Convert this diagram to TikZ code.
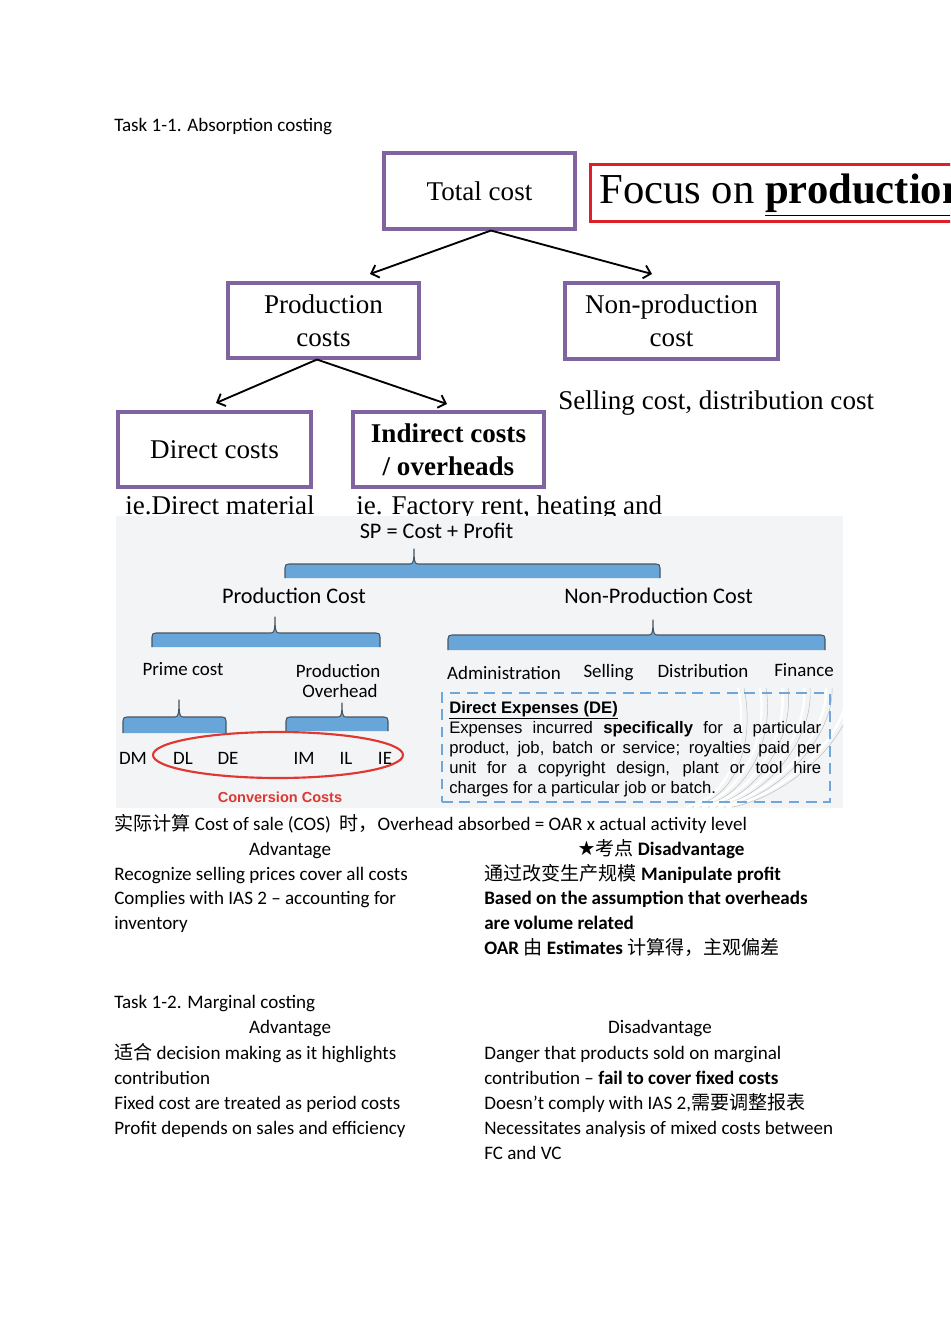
\documentclass[tikz,border=0pt]{standalone}
\usepackage{fontspec}
\setmainfont{Carlito}
\newfontfamily\tnr{Liberation Serif}
\newfontfamily\arial{Liberation Sans}
\newfontfamily\cjk{Noto Sans CJK SC}
\newfontfamily\dvs{DejaVu Sans}
\usetikzlibrary{arrows.meta}
\definecolor{ppl}{RGB}{128,100,162}
\definecolor{redb}{RGB}{222,30,40}
\definecolor{bfill}{RGB}{104,166,218}
\definecolor{bline}{RGB}{75,85,95}
\definecolor{imgbg}{RGB}{243,244,246}
\definecolor{ellred}{RGB}{222,56,48}
\definecolor{dashblue}{RGB}{110,168,218}
\newcommand\bluebrace[6]{%
  \fill[bfill] (#1,#4) -- (#1,{#3+4}) .. controls (#1,{#3+1}) and ({#1+1},#3) .. ({#1+4},#3)
    -- ({#5-4},#3) .. controls ({#5-1},#3) and (#5,{#3-2}) .. (#5,#6)
    .. controls (#5,{#3-2}) and ({#5+1},#3) .. ({#5+4},#3)
    -- ({#2-4},#3) .. controls ({#2-1},#3) and (#2,{#3+1}) .. (#2,{#3+4}) -- (#2,#4) -- cycle;
  \draw[bline, line width=0.8pt, line join=round] (#1,#4) -- (#1,{#3+4}) .. controls (#1,{#3+1}) and ({#1+1},#3) .. ({#1+4},#3)
    -- ({#5-4},#3) .. controls ({#5-1},#3) and (#5,{#3-2}) .. (#5,#6)
    .. controls (#5,{#3-2}) and ({#5+1},#3) .. ({#5+4},#3)
    -- ({#2-4},#3) .. controls ({#2-1},#3) and (#2,{#3+1}) .. (#2,{#3+4}) -- (#2,#4);
}
\begin{document}
\begin{tikzpicture}[x=0.75pt,y=-0.75pt,
  pbox/.style={draw=ppl, line width=2.3pt, font=\tnr\fontsize{20.3}{24.75}\selectfont, align=center, inner sep=0pt},
  arr/.style={line width=1.4pt, -{Straight Barb[length=5pt,width=10pt,line width=1.4pt]}},
  body/.style={font=\fontsize{14.3}{18}\selectfont, anchor=base west, inner sep=0pt},
  bodyc/.style={body, anchor=base},
  tnrtext/.style={font=\tnr\fontsize{20.3}{24}\selectfont, anchor=base west, inner sep=0pt},
  lbl/.style={font=\fontsize{14.2}{17}\selectfont, anchor=base, inner sep=0pt},
  hdr/.style={font=\fontsize{16.7}{19}\selectfont, anchor=base, inner sep=0pt},
  detext/.style={font=\arial\fontsize{12.5}{15}\selectfont, anchor=base west, inner sep=0pt}]
\useasboundingbox (0,0) rectangle (950,1344);
\fill[white] (0,0) rectangle (950,1344);
\clip (0,0) rectangle (950,1344);

% ---------- Task 1-1 title
\node[body] (t11) at (114,132) {Task 1-1. Absorption costing};

% ---------- top tree
\node[pbox, minimum width=143.25pt, minimum height=57pt] (tc) at (479.5,191) {Total cost};
\node[draw=redb, line width=2.2pt, minimum width=300pt, minimum height=42.75pt, anchor=north west, inner sep=0pt] (focus) at (589,163) {};
\node[anchor=base west, inner sep=0pt, font=\tnr\fontsize{32}{36}\selectfont] (focustxt) at (599,204) {Focus on \textbf{\underline{production}}};

\node[pbox, minimum width=143.25pt, minimum height=56.25pt] (pc) at (323.5,320.5) {Production\\costs};
\node[pbox, minimum width=159.75pt, minimum height=57pt] (np) at (671.5,321) {Non-production\\cost};
\node[tnrtext] (sell) at (558,409) {Selling cost, distribution cost};

\node[pbox, minimum width=144.75pt, minimum height=56.25pt] (dc) at (214.5,449.5) {Direct costs};
\node[pbox, minimum width=143.25pt, minimum height=56.25pt, font=\tnr\bfseries\fontsize{20.3}{24.75}\selectfont] (ic) at (448.5,449.5) {Indirect costs\\/ overheads};

\coordinate (e1) at (370,274);
\coordinate (e2) at (652,274);
\coordinate (e3) at (216,403);
\coordinate (e4) at (447,404);
\draw[arr] ([xshift=8.6pt]tc.south) -- (e1);
\draw[arr] ([xshift=8.6pt]tc.south) -- (e2);
\draw[arr] ([xshift=-4.9pt]pc.south) -- (e3);
\draw[arr] ([xshift=-4.9pt]pc.south) -- (e4);

\node[tnrtext] (iedm) at (125,514) {ie.Direct material};
\node[tnrtext] (iefr) at (356,514) {ie. Factory rent, heating and};

% ---------- middle picture
\fill[imgbg] (116,516) rectangle (843,808);
\begin{scope}
\clip (116,516) rectangle (843,808);
\foreach \i in {0,...,5}{
  \draw[white, line width=1.8pt] ({686+\i*8},807) .. controls ({735+\i*10},796) and ({748+\i*20},735) .. ({738+\i*22},688);
  \draw[gray!55, line width=0.35pt] ({692+\i*8},807) .. controls ({741+\i*10},796) and ({754+\i*20},735) .. ({744+\i*22},688);
}
\end{scope}

\node[hdr] (sp) at (436.5,538) {SP = Cost + Profit};
\bluebrace{285}{660}{564}{578}{414}{549}
\node[hdr] (prodc) at (294,603) {Production Cost};
\node[hdr] (nonpc) at (658.5,603) {Non-Production Cost};
\bluebrace{152}{380}{633}{647}{275}{617}
\bluebrace{448}{825}{635}{650}{653}{620}

\node[lbl] (prime) at (183,675) {Prime cost};
\node[lbl] (po1) at (338,677) {Production};
\node[lbl] (po2) at (340,697) {Overhead};
\node[lbl] (adm) at (504,679) {Administration};
\node[lbl] (sel) at (608.5,677) {Selling};
\node[lbl] (dis) at (703,677) {Distribution};
\node[lbl] (fin) at (804,676.5) {Finance};

\bluebrace{123}{226}{717}{733}{179}{700}
\bluebrace{286}{388}{717}{731}{342}{703}

\node[lbl] (dm) at (133,764) {DM};
\node[lbl] (dl) at (183,764) {DL};
\node[lbl] (de) at (228,764) {DE};
\node[lbl] (im) at (304,764) {IM};
\node[lbl] (il) at (346,764) {IL};
\node[lbl] (ie) at (385,764) {IE};
\draw[ellred, line width=1.6pt] (278,755) ellipse [x radius=125, y radius=23];
\node[anchor=base, inner sep=0pt, text=ellred, font=\arial\bfseries\fontsize{10.9}{12}\selectfont] (conv) at (280,802.5) {Conversion Costs};

\node[draw=dashblue, line width=1.5pt, dash pattern=on 8pt off 5pt, minimum width=291pt, minimum height=81.75pt, inner sep=0pt] (debox) at (636,747.5) {};
\node[detext] (de0) at (449,713) {\textbf{\underline{Direct Expenses (DE)}}};
\node[detext] (de1) at (449,733) {\makebox[279pt][s]{Expenses incurred \textbf{specifically} for a particular}};
\node[detext] (de2) at (449,753) {\makebox[279pt][s]{product, job, batch or service; royalties paid per}};
\node[detext] (de3) at (449,773) {\makebox[279pt][s]{unit for a copyright design, plant or tool hire}};
\node[detext] (de4) at (449,793) {charges for a particular job or batch.};

% ---------- text below
\node[body] (cos) at (114,830) {{\cjk 实际计算} Cost of sale (COS)\ \ {\cjk 时，}Overhead absorbed = OAR x actual activity level};
\node[bodyc] (adv1) at (290,855.5) {Advantage};
\node[bodyc] (dis1) at (661,855.5) {{\dvs\fontsize{15}{15}\selectfont ★}{\cjk 考点} \textbf{Disadvantage}};
\node[body] (a1) at (114,880) {Recognize selling prices cover all costs};
\node[body] (a2) at (114,904.5) {Complies with IAS 2 – accounting for};
\node[body] (a3) at (114,929) {inventory};
\node[body] (d1) at (484,880) {{\cjk 通过改变生产规模} \textbf{Manipulate profit}};
\node[body] (d2) at (484,904.5) {\textbf{Based on the assumption that overheads}};
\node[body] (d3) at (484,929) {\textbf{are volume related}};
\node[body] (d4) at (484,954) {\textbf{OAR} {\cjk 由} \textbf{Estimates} {\cjk 计算得，主观偏差}};

\node[body] (t12) at (114,1008) {Task 1-2. Marginal costing};
\node[bodyc] (adv2) at (290,1033.5) {Advantage};
\node[bodyc] (dis2) at (660,1033.5) {Disadvantage};
\node[body] (b1) at (114,1059) {{\cjk 适合} decision making as it highlights};
\node[body] (b2) at (114,1084) {contribution};
\node[body] (b3) at (114,1109) {Fixed cost are treated as period costs};
\node[body] (b4) at (114,1134) {Profit depends on sales and efficiency};
\node[body] (f1) at (484,1059) {Danger that products sold on marginal};
\node[body] (f2) at (484,1084) {contribution – \textbf{fail to cover fixed costs}};
\node[body] (f3) at (484,1109) {Doesn’t comply with IAS 2,{\cjk 需要调整报表}};
\node[body] (f4) at (484,1134) {Necessitates analysis of mixed costs between};
\node[body] (f5) at (484,1159) {FC and VC};
\end{tikzpicture}
\end{document}
